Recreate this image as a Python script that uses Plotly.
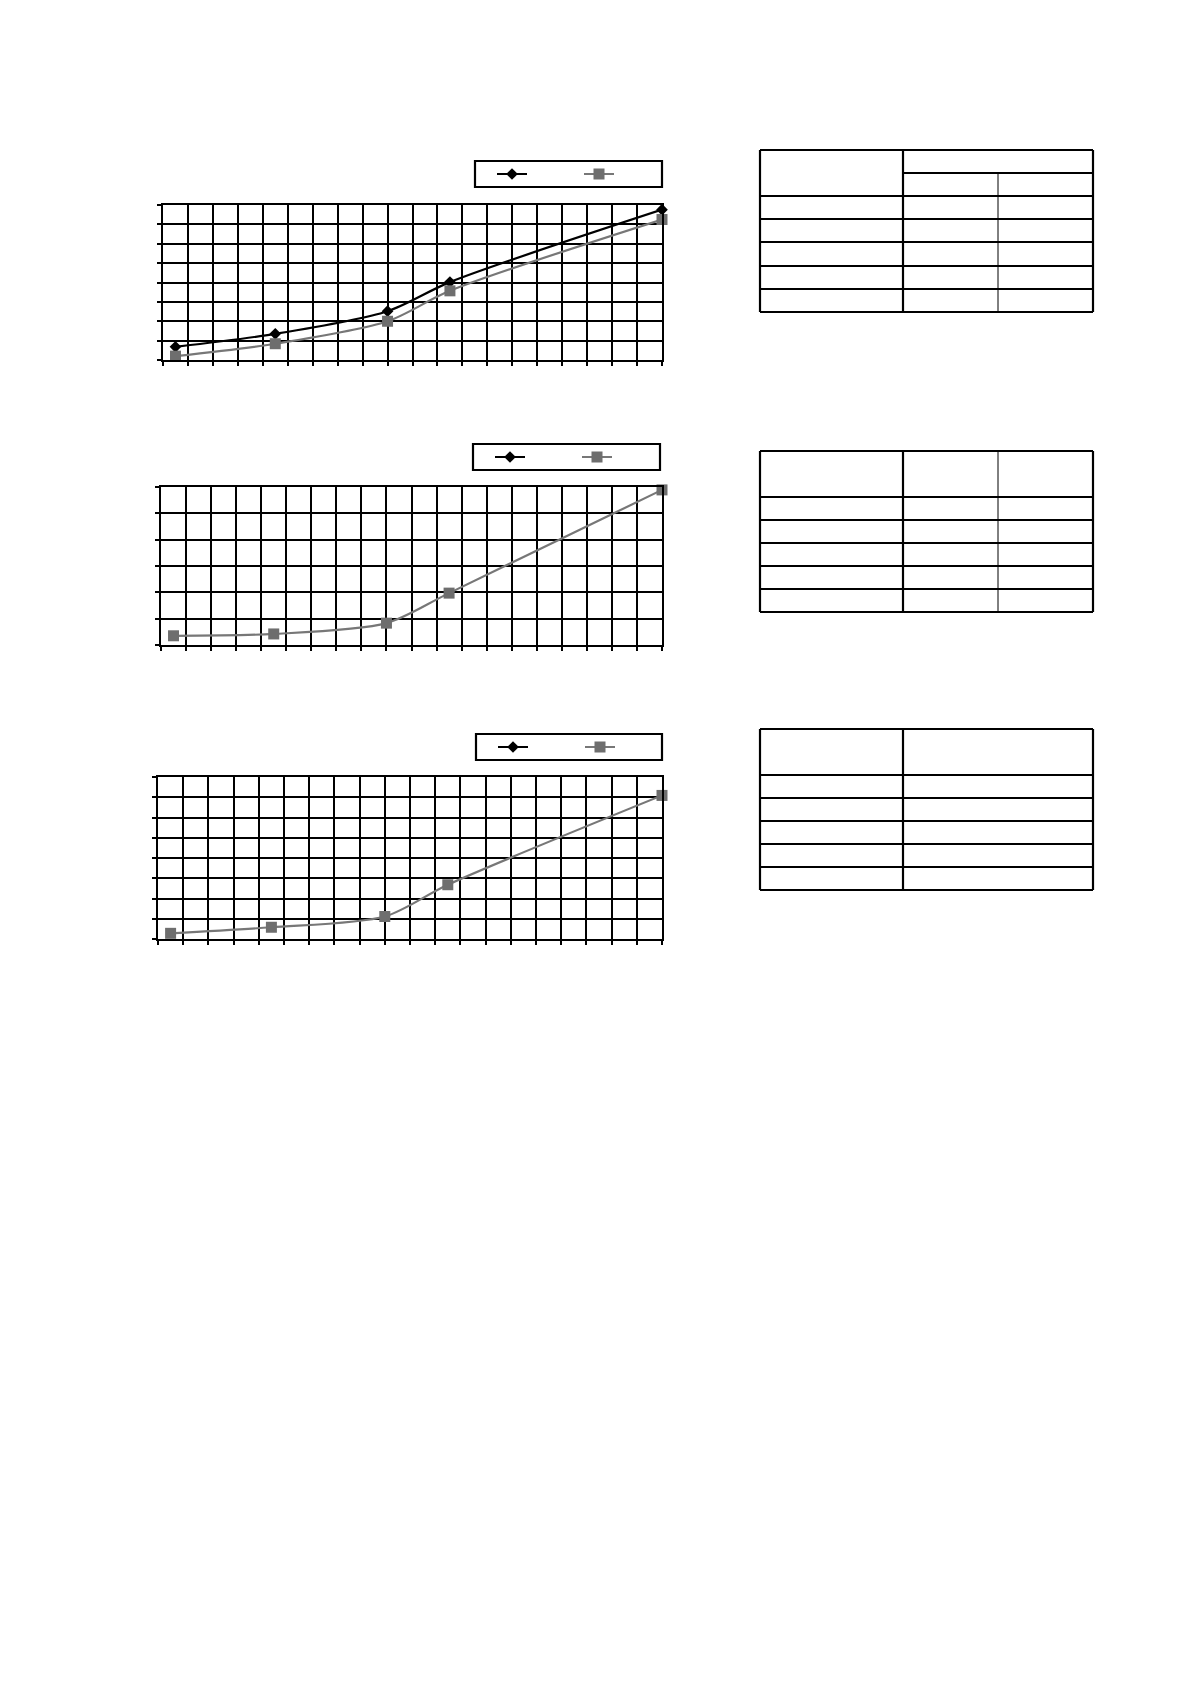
import plotly.graph_objects as go

# positions of the measured points along x (grid units)
x_pts = [0.5, 4.5, 9, 11.5, 20]

# chart 1 (two series)
c1_black = [0.68, 1.35, 2.52, 4.02, 7.76]
c1_gray = [0.20, 0.84, 2.00, 3.57, 7.25]
# chart 2 (only the grey series is drawn)
c2_gray = [0.35, 0.42, 0.83, 1.97, 5.89]
# chart 3
c3_gray = [0.28, 0.58, 1.11, 2.68, 7.09]

x_max = 20
y_max = [8, 6, 8]

# page geometry, pixels of the A4-like page
W, H, OFF = 1170, 1660, 8
def px(x): return (x - OFF) / W
def py(y): return 1 - (y - OFF) / H

plot_boxes = [(163, 662, 205, 360), (161, 662, 487, 645), (158, 662, 777, 939)]
legend_boxes = [(475, 662, 161, 187), (473, 660, 444, 470), (476, 662, 734, 760)]

BLACK = "#000000"
GREY = "#6e6e6e"

fig = go.Figure()

series = [(c1_black, c1_gray), (None, c2_gray), (None, c3_gray)]
for i, (blk, gry) in enumerate(series):
    n = "" if i == 0 else str(i + 1)
    leg = "legend" + n
    fig.add_trace(go.Scatter(
        x=x_pts if blk else [None], y=blk if blk else [None],
        mode="lines+markers", name="", legend=leg, cliponaxis=False,
        xaxis="x" + n, yaxis="y" + n,
        line=dict(color=BLACK, width=2.2, shape="spline", smoothing=0.8),
        marker=dict(symbol="diamond", size=9, color=BLACK)))
    fig.add_trace(go.Scatter(
        x=x_pts, y=gry,
        mode="lines+markers", name="", legend=leg, cliponaxis=False,
        xaxis="x" + n, yaxis="y" + n,
        line=dict(color="#777777", width=2.2, shape="spline", smoothing=0.8),
        marker=dict(symbol="square", size=11, color=GREY)))

layout = dict(width=W, height=H, margin=dict(l=0, r=0, t=0, b=0),
              paper_bgcolor="white", plot_bgcolor="white", showlegend=True)

shapes = []
for i, (x0, x1, y0, y1) in enumerate(plot_boxes):
    n = "" if i == 0 else str(i + 1)
    ax = dict(domain=[px(x0), px(x1)], range=[0, x_max], dtick=1,
              showgrid=True, gridcolor=BLACK, gridwidth=2,
              showline=True, linecolor=BLACK, linewidth=2.2, mirror=True,
              ticks="outside", ticklen=4, tickwidth=2, tickcolor=BLACK,
              showticklabels=False, zeroline=False, fixedrange=True,
              anchor="y" + n)
    ay = dict(domain=[py(y1), py(y0)], range=[0, y_max[i]], dtick=1,
              showgrid=True, gridcolor=BLACK, gridwidth=2,
              showline=True, linecolor=BLACK, linewidth=2.2, mirror=True,
              ticks="outside", ticklen=4, tickwidth=2, tickcolor=BLACK,
              showticklabels=False, zeroline=False, fixedrange=True,
              anchor="x" + n)
    layout["xaxis" + n] = ax
    layout["yaxis" + n] = ay

    lx0, lx1, ly0, ly1 = legend_boxes[i]
    shapes.append(dict(type="rect", xref="paper", yref="paper",
                       x0=px(lx0), x1=px(lx1), y0=py(ly1), y1=py(ly0),
                       line=dict(color=BLACK, width=2.2), fillcolor="white",
                       layer="below"))
    layout["legend" + n] = dict(
        orientation="h", x=px(lx0 + 17), xanchor="left",
        y=py((ly0 + ly1) / 2), yanchor="middle",
        bgcolor="rgba(0,0,0,0)", borderwidth=0,
        entrywidth=42, font=dict(size=10), itemclick=False)

# empty tables on the right
col_x = [760, 903, 998, 1093]
t1_rows = [150, 173, 196, 219, 242, 266, 289, 312]
t2_rows = [451, 497, 520, 543, 566, 589, 612]
t3_rows = [729, 775, 798, 821, 844, 867, 890]

def hline(x0, x1, y, w=2.2):
    shapes.append(dict(type="line", xref="paper", yref="paper",
                       x0=px(x0), x1=px(x1), y0=py(y), y1=py(y),
                       line=dict(color=BLACK, width=w)))

def vline(x, y0, y1, w=2.2):
    shapes.append(dict(type="line", xref="paper", yref="paper",
                       x0=px(x), x1=px(x), y0=py(y0), y1=py(y1),
                       line=dict(color=BLACK, width=w)))

# table 1: merged first column header and split second header
for k, y in enumerate(t1_rows):
    if k == 1:
        hline(col_x[1], col_x[3], y)
    else:
        hline(col_x[0], col_x[3], y)
vline(col_x[0], t1_rows[0], t1_rows[-1])
vline(col_x[1], t1_rows[0], t1_rows[-1])
vline(col_x[2], t1_rows[1], t1_rows[-1], 1)
vline(col_x[3], t1_rows[0], t1_rows[-1])

# table 2: three columns
for y in t2_rows:
    hline(col_x[0], col_x[3], y)
vline(col_x[0], t2_rows[0], t2_rows[-1])
vline(col_x[1], t2_rows[0], t2_rows[-1])
vline(col_x[2], t2_rows[0], t2_rows[-1], 1)
vline(col_x[3], t2_rows[0], t2_rows[-1])

# table 3: two columns
for y in t3_rows:
    hline(col_x[0], col_x[3], y)
vline(col_x[0], t3_rows[0], t3_rows[-1])
vline(col_x[1], t3_rows[0], t3_rows[-1])
vline(col_x[3], t3_rows[0], t3_rows[-1])

layout["shapes"] = shapes
fig.update_layout(**layout)

fig.write_html("out.html")
